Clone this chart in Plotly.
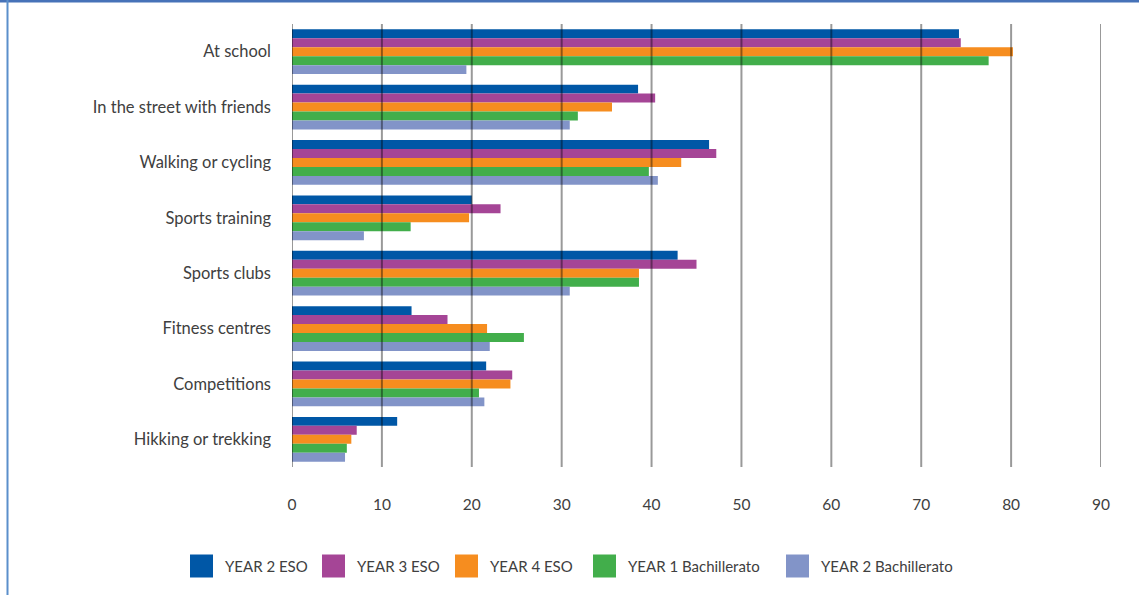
import plotly.graph_objects as go

# Where young people do physical activity (%), by school year
categories = [
    "At school",
    "In the street with friends",
    "Walking or cycling",
    "Sports training",
    "Sports clubs",
    "Fitness centres",
    "Competitions",
    "Hikking or trekking",
]
series_names = [
    "YEAR 2 ESO",
    "YEAR 3 ESO",
    "YEAR 4 ESO",
    "YEAR 1 Bachillerato",
    "YEAR 2 Bachillerato",
]
year2_eso = [74.2, 38.5, 46.4, 20.0, 42.9, 13.3, 21.6, 11.7]
year3_eso = [74.4, 40.4, 47.2, 23.2, 45.0, 17.3, 24.5, 7.2]
year4_eso = [80.2, 35.6, 43.3, 19.7, 38.6, 21.7, 24.3, 6.6]
year1_bach = [77.5, 31.8, 39.7, 13.2, 38.6, 25.8, 20.8, 6.1]
year2_bach = [19.4, 30.9, 40.7, 8.0, 30.9, 22.0, 21.4, 5.9]
series_values = [year2_eso, year3_eso, year4_eso, year1_bach, year2_bach]
x_ticks = [0, 10, 20, 30, 40, 50, 60, 70, 80, 90]

colors = ["#0057A6", "#A54596", "#F68D1F", "#42AE4B", "#8294C8"]

W, H = 1139, 595
PLOT_L, PLOT_R, PLOT_T, PLOT_B = 292, 1101, 24, 467
FONT = "Lato"
TEXT_COLOR = "#404040"


def paper_x(px):
    return (px - PLOT_L) / (PLOT_R - PLOT_L)


def paper_y(py):
    return (PLOT_B - py) / (PLOT_B - PLOT_T)


fig = go.Figure()
for name, vals, col in zip(series_names, series_values, colors):
    fig.add_trace(go.Bar(
        y=categories, x=vals, name=name, orientation="h",
        marker=dict(color=col, line=dict(width=0)),
        showlegend=False,
    ))

shapes = []
# vertical grid lines drawn over the bars
for t in x_ticks:
    shapes.append(dict(type="line", xref="x", yref="paper", x0=t, x1=t, y0=0, y1=1,
                       line=dict(color="rgba(0,0,0,0.40)", width=2), layer="above"))

# frame lines along the top and left edges
shapes.append(dict(type="line", xref="paper", yref="paper",
                   x0=paper_x(0), x1=paper_x(W), y0=paper_y(1), y1=paper_y(1),
                   line=dict(color="#4672B8", width=3), layer="above"))
shapes.append(dict(type="line", xref="paper", yref="paper",
                   x0=paper_x(7.5), x1=paper_x(7.5), y0=paper_y(0), y1=paper_y(H),
                   line=dict(color="#5B8FCB", width=2), layer="above"))

# legend: coloured squares with labels underneath the chart
legend_left = [190, 322, 455, 593, 786]
sq, leg_y = 23, 566
annotations = []
for name, col, lx in zip(series_names, colors, legend_left):
    shapes.append(dict(type="rect", xref="paper", yref="paper",
                       x0=paper_x(lx), x1=paper_x(lx + sq),
                       y0=paper_y(leg_y - sq / 2), y1=paper_y(leg_y + sq / 2),
                       fillcolor=col, line=dict(width=0)))
    annotations.append(dict(xref="paper", yref="paper", x=paper_x(lx + sq + 10),
                            y=paper_y(leg_y), text=name, showarrow=False,
                            xanchor="left", yanchor="middle",
                            font=dict(family=FONT, size=15, color=TEXT_COLOR)))

fig.update_layout(
    width=W, height=H,
    margin=dict(l=PLOT_L, r=W - PLOT_R, t=PLOT_T, b=H - PLOT_B),
    paper_bgcolor="white", plot_bgcolor="white",
    barmode="group", bargap=0.19, bargroupgap=0,
    showlegend=False,
    shapes=shapes, annotations=annotations,
    xaxis=dict(range=[0, 90], tickvals=x_ticks, showgrid=False, zeroline=False,
               showline=False, ticks="", ticklabelstandoff=26,
               tickfont=dict(family=FONT, size=15.5, color=TEXT_COLOR),
               fixedrange=True),
    yaxis=dict(autorange="reversed", showgrid=False, zeroline=False, showline=False,
               ticks="", ticklabelstandoff=20,
               tickfont=dict(family=FONT, size=16.5, color=TEXT_COLOR),
               fixedrange=True),
)

fig.write_html("out.html")
